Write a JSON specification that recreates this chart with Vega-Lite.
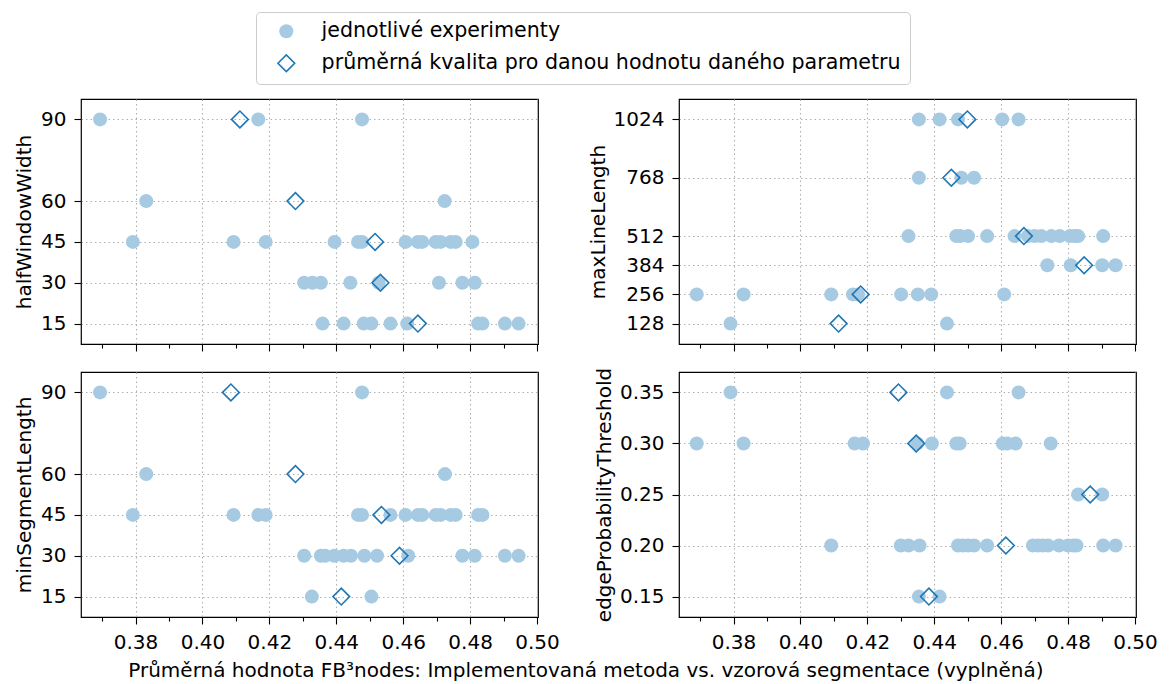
{
  "$schema": "https://vega.github.io/schema/vega-lite/v6.json",
  "background": "white",
  "padding": {"left": 13, "top": 11, "right": 10, "bottom": 5},
  "config": {
    "font": "DejaVu Sans",
    "view": {"stroke": "black", "strokeWidth": 1.2},
    "axis": {"domain": false, "tickColor": "black", "tickSize": 7, "tickWidth": 1.1, "labelColor": "black", "labelFontSize": 20, "labelFont": "DejaVu Sans", "titleFont": "DejaVu Sans", "titleFontSize": 20, "titleFontWeight": "normal", "titleColor": "black", "labelPadding": 8, "gridColor": "#b0b0b0", "gridDash": [1.5, 3], "gridWidth": 1.1, "labelOverlap": false, "labelFlush": false}
  },
  "title": {"text": "Průměrná hodnota FB³nodes: Implementovaná metoda vs. vzorová segmentace (vyplněná)", "orient": "bottom", "anchor": "middle", "fontSize": 20, "fontWeight": "normal", "font": "DejaVu Sans", "color": "black", "offset": 8},
  "data": {"values": [
    {"p":"h","v":90,"f":0.3694,"k":"e"},{"p":"h","v":90,"f":0.4167,"k":"e"},{"p":"h","v":90,"f":0.4477,"k":"e"},
    {"p":"h","v":60,"f":0.3832,"k":"e"},{"p":"h","v":60,"f":0.4724,"k":"e"},
    {"p":"h","v":45,"f":0.3792,"k":"e"},{"p":"h","v":45,"f":0.4093,"k":"e"},{"p":"h","v":45,"f":0.4189,"k":"e"},{"p":"h","v":45,"f":0.4395,"k":"e"},{"p":"h","v":45,"f":0.4465,"k":"e"},{"p":"h","v":45,"f":0.4477,"k":"e"},{"p":"h","v":45,"f":0.4607,"k":"e"},{"p":"h","v":45,"f":0.4644,"k":"e"},{"p":"h","v":45,"f":0.4657,"k":"e"},{"p":"h","v":45,"f":0.4697,"k":"e"},{"p":"h","v":45,"f":0.4712,"k":"e"},{"p":"h","v":45,"f":0.4742,"k":"e"},{"p":"h","v":45,"f":0.4757,"k":"e"},{"p":"h","v":45,"f":0.4807,"k":"e"},
    {"p":"h","v":30,"f":0.4304,"k":"e"},{"p":"h","v":30,"f":0.4329,"k":"e"},{"p":"h","v":30,"f":0.4354,"k":"e"},{"p":"h","v":30,"f":0.4442,"k":"e"},{"p":"h","v":30,"f":0.4527,"k":"e"},{"p":"h","v":30,"f":0.4707,"k":"e"},{"p":"h","v":30,"f":0.4777,"k":"e"},{"p":"h","v":30,"f":0.4814,"k":"e"},
    {"p":"h","v":15,"f":0.4359,"k":"e"},{"p":"h","v":15,"f":0.4422,"k":"e"},{"p":"h","v":15,"f":0.4482,"k":"e"},{"p":"h","v":15,"f":0.4505,"k":"e"},{"p":"h","v":15,"f":0.4562,"k":"e"},{"p":"h","v":15,"f":0.4612,"k":"e"},{"p":"h","v":15,"f":0.4824,"k":"e"},{"p":"h","v":15,"f":0.4837,"k":"e"},{"p":"h","v":15,"f":0.4904,"k":"e"},{"p":"h","v":15,"f":0.4945,"k":"e"},
    {"p":"l","v":1024,"f":0.4354,"k":"e"},{"p":"l","v":1024,"f":0.4416,"k":"e"},{"p":"l","v":1024,"f":0.4471,"k":"e"},{"p":"l","v":1024,"f":0.4603,"k":"e"},{"p":"l","v":1024,"f":0.4652,"k":"e"},
    {"p":"l","v":768,"f":0.4354,"k":"e"},{"p":"l","v":768,"f":0.4481,"k":"e"},{"p":"l","v":768,"f":0.4519,"k":"e"},
    {"p":"l","v":512,"f":0.4323,"k":"e"},{"p":"l","v":512,"f":0.4466,"k":"e"},{"p":"l","v":512,"f":0.4478,"k":"e"},{"p":"l","v":512,"f":0.4501,"k":"e"},{"p":"l","v":512,"f":0.4558,"k":"e"},{"p":"l","v":512,"f":0.4640,"k":"e"},{"p":"l","v":512,"f":0.4680,"k":"e"},{"p":"l","v":512,"f":0.4700,"k":"e"},{"p":"l","v":512,"f":0.4720,"k":"e"},{"p":"l","v":512,"f":0.4750,"k":"e"},{"p":"l","v":512,"f":0.4775,"k":"e"},{"p":"l","v":512,"f":0.4805,"k":"e"},{"p":"l","v":512,"f":0.4820,"k":"e"},{"p":"l","v":512,"f":0.4830,"k":"e"},{"p":"l","v":512,"f":0.4905,"k":"e"},
    {"p":"l","v":384,"f":0.4738,"k":"e"},{"p":"l","v":384,"f":0.4808,"k":"e"},{"p":"l","v":384,"f":0.4902,"k":"e"},{"p":"l","v":384,"f":0.4942,"k":"e"},
    {"p":"l","v":256,"f":0.3690,"k":"e"},{"p":"l","v":256,"f":0.3830,"k":"e"},{"p":"l","v":256,"f":0.4092,"k":"e"},{"p":"l","v":256,"f":0.4157,"k":"e"},{"p":"l","v":256,"f":0.4172,"k":"e"},{"p":"l","v":256,"f":0.4301,"k":"e"},{"p":"l","v":256,"f":0.4351,"k":"e"},{"p":"l","v":256,"f":0.4391,"k":"e"},{"p":"l","v":256,"f":0.4609,"k":"e"},
    {"p":"l","v":128,"f":0.3791,"k":"e"},{"p":"l","v":128,"f":0.4438,"k":"e"},
    {"p":"s","v":90,"f":0.3694,"k":"e"},{"p":"s","v":90,"f":0.4477,"k":"e"},
    {"p":"s","v":60,"f":0.3832,"k":"e"},{"p":"s","v":60,"f":0.4725,"k":"e"},
    {"p":"s","v":45,"f":0.3792,"k":"e"},{"p":"s","v":45,"f":0.4093,"k":"e"},{"p":"s","v":45,"f":0.4167,"k":"e"},{"p":"s","v":45,"f":0.4189,"k":"e"},{"p":"s","v":45,"f":0.4465,"k":"e"},{"p":"s","v":45,"f":0.4477,"k":"e"},{"p":"s","v":45,"f":0.4562,"k":"e"},{"p":"s","v":45,"f":0.4607,"k":"e"},{"p":"s","v":45,"f":0.4644,"k":"e"},{"p":"s","v":45,"f":0.4657,"k":"e"},{"p":"s","v":45,"f":0.4697,"k":"e"},{"p":"s","v":45,"f":0.4712,"k":"e"},{"p":"s","v":45,"f":0.4742,"k":"e"},{"p":"s","v":45,"f":0.4757,"k":"e"},{"p":"s","v":45,"f":0.4824,"k":"e"},{"p":"s","v":45,"f":0.4837,"k":"e"},
    {"p":"s","v":30,"f":0.4304,"k":"e"},{"p":"s","v":30,"f":0.4354,"k":"e"},{"p":"s","v":30,"f":0.4367,"k":"e"},{"p":"s","v":30,"f":0.4394,"k":"e"},{"p":"s","v":30,"f":0.4422,"k":"e"},{"p":"s","v":30,"f":0.4444,"k":"e"},{"p":"s","v":30,"f":0.4484,"k":"e"},{"p":"s","v":30,"f":0.4522,"k":"e"},{"p":"s","v":30,"f":0.4615,"k":"e"},{"p":"s","v":30,"f":0.4777,"k":"e"},{"p":"s","v":30,"f":0.4814,"k":"e"},{"p":"s","v":30,"f":0.4904,"k":"e"},{"p":"s","v":30,"f":0.4945,"k":"e"},
    {"p":"s","v":15,"f":0.4327,"k":"e"},{"p":"s","v":15,"f":0.4505,"k":"e"},
    {"p":"t","v":0.35,"f":0.3791,"k":"e"},{"p":"t","v":0.35,"f":0.4438,"k":"e"},{"p":"t","v":0.35,"f":0.4652,"k":"e"},
    {"p":"t","v":0.30,"f":0.3690,"k":"e"},{"p":"t","v":0.30,"f":0.3830,"k":"e"},{"p":"t","v":0.30,"f":0.4162,"k":"e"},{"p":"t","v":0.30,"f":0.4187,"k":"e"},{"p":"t","v":0.30,"f":0.4349,"k":"e"},{"p":"t","v":0.30,"f":0.4393,"k":"e"},{"p":"t","v":0.30,"f":0.4466,"k":"e"},{"p":"t","v":0.30,"f":0.4476,"k":"e"},{"p":"t","v":0.30,"f":0.4605,"k":"e"},{"p":"t","v":0.30,"f":0.4618,"k":"e"},{"p":"t","v":0.30,"f":0.4643,"k":"e"},{"p":"t","v":0.30,"f":0.4748,"k":"e"},
    {"p":"t","v":0.25,"f":0.4830,"k":"e"},{"p":"t","v":0.25,"f":0.4902,"k":"e"},
    {"p":"t","v":0.20,"f":0.4092,"k":"e"},{"p":"t","v":0.20,"f":0.4300,"k":"e"},{"p":"t","v":0.20,"f":0.4323,"k":"e"},{"p":"t","v":0.20,"f":0.4356,"k":"e"},{"p":"t","v":0.20,"f":0.4471,"k":"e"},{"p":"t","v":0.20,"f":0.4486,"k":"e"},{"p":"t","v":0.20,"f":0.4501,"k":"e"},{"p":"t","v":0.20,"f":0.4519,"k":"e"},{"p":"t","v":0.20,"f":0.4558,"k":"e"},{"p":"t","v":0.20,"f":0.4695,"k":"e"},{"p":"t","v":0.20,"f":0.4710,"k":"e"},{"p":"t","v":0.20,"f":0.4725,"k":"e"},{"p":"t","v":0.20,"f":0.4740,"k":"e"},{"p":"t","v":0.20,"f":0.4773,"k":"e"},{"p":"t","v":0.20,"f":0.4800,"k":"e"},{"p":"t","v":0.20,"f":0.4815,"k":"e"},{"p":"t","v":0.20,"f":0.4825,"k":"e"},{"p":"t","v":0.20,"f":0.4905,"k":"e"},{"p":"t","v":0.20,"f":0.4942,"k":"e"},
    {"p":"t","v":0.15,"f":0.4354,"k":"e"},{"p":"t","v":0.15,"f":0.4416,"k":"e"},
    {"p":"h","v":90,"f":0.4112,"k":"m"},{"p":"h","v":60,"f":0.4278,"k":"m"},{"p":"h","v":45,"f":0.4516,"k":"m"},{"p":"h","v":30,"f":0.4532,"k":"m"},{"p":"h","v":15,"f":0.4644,"k":"m"},
    {"p":"l","v":1024,"f":0.4499,"k":"m"},{"p":"l","v":768,"f":0.4451,"k":"m"},{"p":"l","v":512,"f":0.4668,"k":"m"},{"p":"l","v":384,"f":0.4848,"k":"m"},{"p":"l","v":256,"f":0.4180,"k":"m"},{"p":"l","v":128,"f":0.4114,"k":"m"},
    {"p":"s","v":90,"f":0.4085,"k":"m"},{"p":"s","v":60,"f":0.4278,"k":"m"},{"p":"s","v":45,"f":0.4535,"k":"m"},{"p":"s","v":30,"f":0.4589,"k":"m"},{"p":"s","v":15,"f":0.4415,"k":"m"},
    {"p":"t","v":0.35,"f":0.4293,"k":"m"},{"p":"t","v":0.30,"f":0.4346,"k":"m"},{"p":"t","v":0.25,"f":0.4866,"k":"m"},{"p":"t","v":0.20,"f":0.4614,"k":"m"},{"p":"t","v":0.15,"f":0.4384,"k":"m"}
  ]},
  "columns": 2,
  "spacing": {"row": 28, "column": 141},
  "bounds": "flush",
  "resolve": {"scale": {"x": "independent", "y": "independent"}, "axis": {"x": "independent", "y": "independent"}},
  "concat": [
    {
      "width": 457, "height": 245,
      "transform": [{"filter": "datum.p == 'h'"}],
      "mark": {"type": "point", "filled": true, "opacity": 1, "strokeWidth": 1.6},
      "encoding": {
        "x": {"field": "f", "type": "quantitative", "scale": {"domain": [0.3637, 0.5003], "nice": false, "zero": false},
              "axis": {"values": [0.37,0.38,0.39,0.40,0.41,0.42,0.43,0.44,0.45,0.46,0.47,0.48,0.49,0.50], "title": null, "labels": false,
                       "tickSize": {"condition": {"test": "round(datum.value*100) % 2 == 1", "value": 4}, "value": 7},
                       "gridOpacity": {"condition": {"test": "round(datum.value*100) % 2 == 1", "value": 0}, "value": 1}}},
        "y": {"field": "v", "type": "quantitative", "scale": {"domain": [7.5, 97.5], "nice": false, "zero": false},
              "axis": {"values": [15, 30, 45, 60, 90], "title": "halfWindowWidth", "titlePadding": 6}},
        "fill": {"field": "k", "type": "nominal", "scale": {"domain": ["e", "m"], "range": ["#a6cae2", "transparent"]}},
        "stroke": {"field": "k", "type": "nominal", "scale": {"domain": ["e", "m"], "range": ["transparent", "#1f77b4"]}},
        "size": {"field": "k", "type": "nominal", "scale": {"domain": ["e", "m"], "range": [196, 280]}},
        "shape": {"field": "k", "type": "nominal", "scale": {"domain": ["e", "m"], "range": ["circle", "diamond"]},
                  "legend": {"orient": "none", "legendX": 175, "legendY": -87, "title": null, "labelFontSize": 20.6, "labelColor": "black", "labelFont": "DejaVu Sans", "labelLimit": 1000,
                             "labelExpr": "datum.label == 'e' ? 'jednotlivé experimenty' : 'průměrná kvalita pro danou hodnotu daného parametru'",
                             "strokeColor": "#cccccc", "cornerRadius": 4, "fillColor": "white", "padding": 9, "rowPadding": 9, "labelOffset": 25, "symbolOffset": 11, "symbolStrokeWidth": 1.6}}
      }
    },
    {
      "width": 457, "height": 245,
      "transform": [{"filter": "datum.p == 'l'"}],
      "mark": {"type": "point", "filled": true, "opacity": 1, "strokeWidth": 1.6},
      "encoding": {
        "x": {"field": "f", "type": "quantitative", "scale": {"domain": [0.3637, 0.5003], "nice": false, "zero": false},
              "axis": {"values": [0.37,0.38,0.39,0.40,0.41,0.42,0.43,0.44,0.45,0.46,0.47,0.48,0.49,0.50], "title": null, "labels": false,
                       "tickSize": {"condition": {"test": "round(datum.value*100) % 2 == 1", "value": 4}, "value": 7},
                       "gridOpacity": {"condition": {"test": "round(datum.value*100) % 2 == 1", "value": 0}, "value": 1}}},
        "y": {"field": "v", "type": "quantitative", "scale": {"domain": [38.4, 1113.6], "nice": false, "zero": false},
              "axis": {"values": [128, 256, 384, 512, 768, 1024], "format": "d", "title": "maxLineLength", "titlePadding": 5}},
        "fill": {"field": "k", "type": "nominal", "scale": {"domain": ["e", "m"], "range": ["#a6cae2", "transparent"]}},
        "stroke": {"field": "k", "type": "nominal", "scale": {"domain": ["e", "m"], "range": ["transparent", "#1f77b4"]}},
        "size": {"field": "k", "type": "nominal", "scale": {"domain": ["e", "m"], "range": [196, 280]}},
        "shape": {"field": "k", "type": "nominal", "scale": {"domain": ["e", "m"], "range": ["circle", "diamond"]}}
      }
    },
    {
      "width": 457, "height": 245,
      "transform": [{"filter": "datum.p == 's'"}],
      "mark": {"type": "point", "filled": true, "opacity": 1, "strokeWidth": 1.6},
      "encoding": {
        "x": {"field": "f", "type": "quantitative", "scale": {"domain": [0.3637, 0.5003], "nice": false, "zero": false},
              "axis": {"values": [0.37,0.38,0.39,0.40,0.41,0.42,0.43,0.44,0.45,0.46,0.47,0.48,0.49,0.50], "title": null,
                       "labelExpr": "round(datum.value*100) % 2 == 1 ? '' : format(datum.value, '.2f')",
                       "tickSize": {"condition": {"test": "round(datum.value*100) % 2 == 1", "value": 4}, "value": 7},
                       "gridOpacity": {"condition": {"test": "round(datum.value*100) % 2 == 1", "value": 0}, "value": 1}}},
        "y": {"field": "v", "type": "quantitative", "scale": {"domain": [7.5, 97.5], "nice": false, "zero": false},
              "axis": {"values": [15, 30, 45, 60, 90], "title": "minSegmentLength", "titlePadding": 6}},
        "fill": {"field": "k", "type": "nominal", "scale": {"domain": ["e", "m"], "range": ["#a6cae2", "transparent"]}},
        "stroke": {"field": "k", "type": "nominal", "scale": {"domain": ["e", "m"], "range": ["transparent", "#1f77b4"]}},
        "size": {"field": "k", "type": "nominal", "scale": {"domain": ["e", "m"], "range": [196, 280]}},
        "shape": {"field": "k", "type": "nominal", "scale": {"domain": ["e", "m"], "range": ["circle", "diamond"]}}
      }
    },
    {
      "width": 457, "height": 245,
      "transform": [{"filter": "datum.p == 't'"}],
      "mark": {"type": "point", "filled": true, "opacity": 1, "strokeWidth": 1.6},
      "encoding": {
        "x": {"field": "f", "type": "quantitative", "scale": {"domain": [0.3637, 0.5003], "nice": false, "zero": false},
              "axis": {"values": [0.37,0.38,0.39,0.40,0.41,0.42,0.43,0.44,0.45,0.46,0.47,0.48,0.49,0.50], "title": null,
                       "labelExpr": "round(datum.value*100) % 2 == 1 ? '' : format(datum.value, '.2f')",
                       "tickSize": {"condition": {"test": "round(datum.value*100) % 2 == 1", "value": 4}, "value": 7},
                       "gridOpacity": {"condition": {"test": "round(datum.value*100) % 2 == 1", "value": 0}, "value": 1}}},
        "y": {"field": "v", "type": "quantitative", "scale": {"domain": [0.13, 0.37], "nice": false, "zero": false},
              "axis": {"values": [0.15, 0.20, 0.25, 0.30, 0.35], "format": ".2f", "title": "edgeProbabilityThreshold", "titlePadding": 5}},
        "fill": {"field": "k", "type": "nominal", "scale": {"domain": ["e", "m"], "range": ["#a6cae2", "transparent"]}},
        "stroke": {"field": "k", "type": "nominal", "scale": {"domain": ["e", "m"], "range": ["transparent", "#1f77b4"]}},
        "size": {"field": "k", "type": "nominal", "scale": {"domain": ["e", "m"], "range": [196, 280]}},
        "shape": {"field": "k", "type": "nominal", "scale": {"domain": ["e", "m"], "range": ["circle", "diamond"]}}
      }
    }
  ]
}
